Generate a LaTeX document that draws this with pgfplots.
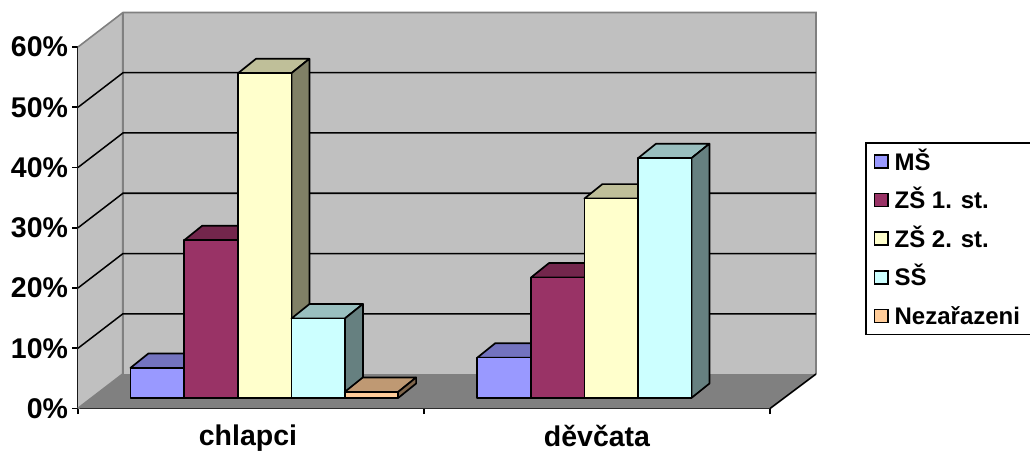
\documentclass[border=0pt]{standalone}
\usepackage{pgfplots}
\pgfplotsset{compat=1.18}
\usepackage{fontspec}
\setmainfont{Liberation Sans}

\definecolor{msc}{HTML}{9999FF}
\definecolor{zsa}{HTML}{993366}
\definecolor{zsb}{HTML}{FFFFCC}
\definecolor{ssc}{HTML}{CCFFFF}
\definecolor{nez}{HTML}{FFCC99}
\definecolor{wall}{HTML}{C0C0C0}
\definecolor{floorc}{HTML}{808080}

% depth of the chart box and of a single column, in x units and percent
\def\boxdx{45}
\def\boxdy{5.726}
\def\coldx{18}
\def\coldy{2.4}
\def\colbase{1.743}
\def\colw{53.4}

% one 3D column: left edge, value, colour
\newcommand{\column}[3]{%
  \pgfmathsetmacro\xa{#1}%
  \pgfmathsetmacro\xb{#1+\colw}%
  \pgfmathsetmacro\xc{#1+\colw+\coldx}%
  \pgfmathsetmacro\xd{#1+\coldx}%
  \pgfmathsetmacro\ya{\colbase}%
  \pgfmathsetmacro\yb{\colbase+#2}%
  \pgfmathsetmacro\yc{\colbase+#2+\coldy}%
  \pgfmathsetmacro\ye{\colbase+\coldy}%
  \addplot[forget plot,draw=black,line width=1.7pt,line join=round,fill=#3!75!black]
    coordinates {(\xa,\yb)(\xd,\yc)(\xc,\yc)(\xb,\yb)} --cycle;
  \addplot[forget plot,draw=black,line width=1.7pt,line join=round,fill=#3!50!black]
    coordinates {(\xb,\ya)(\xc,\ye)(\xc,\yc)(\xb,\yb)} --cycle;
  \addplot[forget plot,draw=black,line width=1.7pt,line join=round,fill=#3]
    coordinates {(\xa,\ya)(\xb,\ya)(\xb,\yb)(\xa,\yb)} --cycle;
}
% one gridline across the side wall and the back wall
\newcommand{\gridrow}[1]{%
  \pgfmathsetmacro\yf{#1}%
  \pgfmathsetmacro\yg{#1+\boxdy}%
  \addplot[forget plot,black,line width=1.5pt]
    coordinates {(78,\yf)(123,\yg)(816,\yg)};
}

\begin{document}
\begin{tikzpicture}
\begin{axis}[
  scale only axis,
  width=692pt, height=361.5pt,
  xmin=78, xmax=770, ymin=0, ymax=60,
  clip=false,
  axis x line=bottom, axis y line=left,
  axis line style={-,black,line width=1.7pt},
  tick align=outside,
  ytick={0,10,...,60},
  yticklabel={\pgfmathprintnumber{\tick}\%},
  /pgf/number format/assume math mode=true,
  xtick={248,597},
  xticklabels={chlapci,děvčata},
  minor xtick={78,424,770},
  major x tick style={draw=none},
  minor x tick style={black,line width=1.4pt},
  y tick style={black,line width=1.6pt},
  major tick length=5.5pt,
  minor tick length=5.5pt,
  ticklabel style={font=\bfseries\fontsize{28.5}{30}\selectfont},
  yticklabel style={xshift=-1pt},
  xticklabel style={yshift=-7.5pt},
  legend image code/.code={%
    \path[draw=none,fill=none] (0pt,0pt) -- (17pt,0pt);
    \draw[#1,line width=1.6pt] (0pt,-6.5pt) rectangle (13.5pt,6.5pt);},
  legend cell align=left,
  legend style={
    at={(axis cs:865,44.2)},anchor=north west,
    draw=black,line width=1.7pt,
    font=\bfseries\fontsize{24}{26}\selectfont,
    inner xsep=8pt,inner ysep=3pt,
    row sep=7.6pt,
    nodes={text height=24pt,text depth=7pt,inner ysep=0pt,inner xsep=3pt},
  },
]
% walls and floor
\addplot[forget plot,draw=none,fill=wall]
  coordinates {(78,0)(123,5.726)(123,65.726)(78,60)} --cycle;
\addplot[forget plot,draw=none,fill=wall]
  coordinates {(123,5.726)(816,5.726)(816,65.726)(123,65.726)} --cycle;
\addplot[forget plot,draw=none,fill=floorc]
  coordinates {(78,0)(770,0)(816,5.726)(123,5.726)} --cycle;
% grey outline of the box
\addplot[forget plot,floorc,line width=1.6pt]
  coordinates {(78,60)(123,65.726)(816,65.726)(816,5.726)};
\addplot[forget plot,floorc,line width=2pt]
  coordinates {(78,0)(123,5.726)(123,65.726)};
\addplot[forget plot,black,line width=1.6pt]
  coordinates {(770,0)(816,5.726)};
\gridrow{10}\gridrow{20}\gridrow{30}\gridrow{40}\gridrow{50}
% chlapci
\column{130.5}{5.0}{msc}
\column{184.3}{26.2}{zsa}
\column{238}{53.9}{zsb}
\column{291.5}{13.2}{ssc}
\column{344.7}{1.0}{nez}
% děvčata
\column{477.3}{6.7}{msc}
\column{531}{20.0}{zsa}
\column{584.4}{33.1}{zsb}
\column{638}{39.8}{ssc}
% legend
\addlegendimage{fill=msc,draw=black}\addlegendentry{MŠ}
\addlegendimage{fill=zsa,draw=black}\addlegendentry{ZŠ 1. st.}
\addlegendimage{fill=zsb,draw=black}\addlegendentry{ZŠ 2. st.}
\addlegendimage{fill=ssc,draw=black}\addlegendentry{SŠ}
\addlegendimage{fill=nez,draw=black}\addlegendentry{Nezařazeni}
\end{axis}
\pgfresetboundingbox
\path[use as bounding box] (-78pt,-43.5pt) rectangle (952pt,408.5pt);
\end{tikzpicture}
\end{document}
